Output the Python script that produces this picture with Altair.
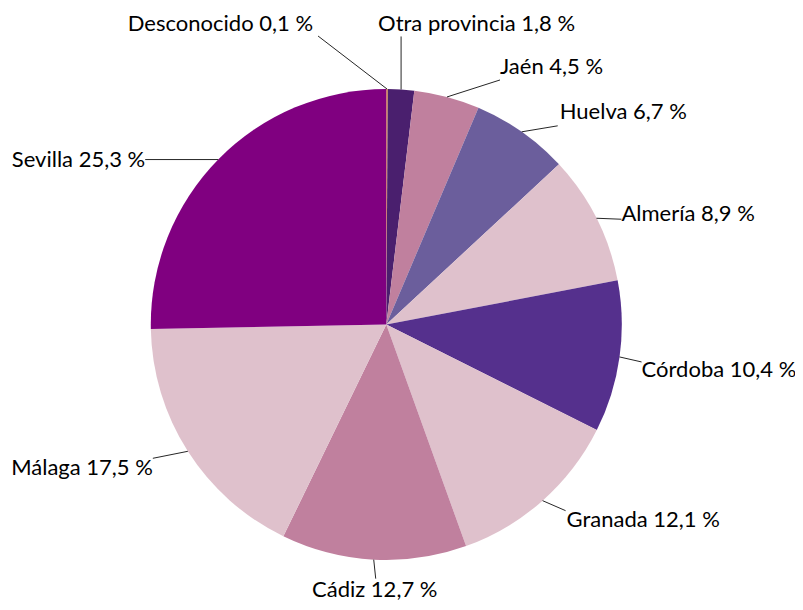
import altair as alt
import pandas as pd

# ---- data ----
categories = ["Desconocido", "Otra provincia", "Jaén", "Huelva", "Almería",
              "Córdoba", "Granada", "Cádiz", "Málaga", "Sevilla"]
values = [0.1, 1.8, 4.5, 6.7, 8.9, 10.4, 12.1, 12.7, 17.5, 25.3]
labels = [f"{c} {str(v).replace('.', ',')} %" for c, v in zip(categories, values)]

# ---- style ----
colors = ["#e8913a", "#4a1f6e", "#c0809e", "#6b5e9c", "#dfc1cc",
          "#55308d", "#dfc1cc", "#c0809e", "#dfc1cc", "#800080"]
# label layout: leader end offset from slice edge, text offset from leader end, alignment
leader_dx = [-69, 0, 53, 36, 25, 22, 23, 2, -35, -73]
leader_dy = [-53, -53, -17, -6, 1, 5, 10, 19, 7, 0]
text_dx = [-5, -23, 0, 2, 0, 0, 1, -1, 0, 0]
text_dy = [-12, -12, -13, -14, -5, 8, 9, 11, 10, 0]
text_align = ["right", "left", "left", "left", "left",
              "left", "left", "center", "right", "right"]

CX, CY, R = 378.3, 316.5, 235.5
FONT = "Lato"
FSIZE = 22

df = pd.DataFrame({
    "category": categories, "value": values, "label": labels,
    "idx": list(range(len(categories))),
    "ldx": leader_dx, "ldy": leader_dy, "tdx": text_dx, "tdy": text_dy,
    "al": text_align,
})

base = alt.Chart(df)

pie = base.mark_arc(outerRadius=R).encode(
    theta=alt.Theta("value:Q", stack=True),
    order=alt.Order("idx:Q"),
    color=alt.Color("category:N", scale=alt.Scale(domain=categories, range=colors), legend=None),
    x=alt.value(CX), y=alt.value(CY),
)

geo = base.transform_joinaggregate(total="sum(value)").transform_window(
    cum="sum(value)", sort=[alt.SortField("idx")]
).transform_calculate(
    mid="2*PI*(datum.cum - datum.value/2)/datum.total"
).transform_calculate(
    sx=f"{CX} + {R}*sin(datum.mid)",
    sy=f"{CY} - {R}*cos(datum.mid)",
).transform_calculate(
    ex="datum.sx + datum.ldx",
    ey="datum.sy + datum.ldy",
).transform_calculate(
    tx="datum.ex + datum.tdx",
    ty="datum.ey + datum.tdy",
)

leaders = geo.mark_rule(color="#262626", strokeWidth=1).encode(
    x=alt.X("sx:Q", scale=None, axis=None),
    y=alt.Y("sy:Q", scale=None, axis=None),
    x2="ex:Q", y2="ey:Q",
)

def text_layer(al):
    return geo.transform_filter(f"datum.al == '{al}'").mark_text(
        align=al, baseline="middle", font=FONT, fontSize=FSIZE, color="#000000"
    ).encode(
        x=alt.X("tx:Q", scale=None, axis=None),
        y=alt.Y("ty:Q", scale=None, axis=None),
        text="label:N",
    )

chart = alt.layer(
    pie, leaders, text_layer("left"), text_layer("right"), text_layer("center")
).properties(
    width=787, height=594, autosize=alt.AutoSizeParams(type="none"), padding=0
).configure_view(stroke=None)

chart.save("out.html", embed_options={"renderer": "svg", "actions": False})
